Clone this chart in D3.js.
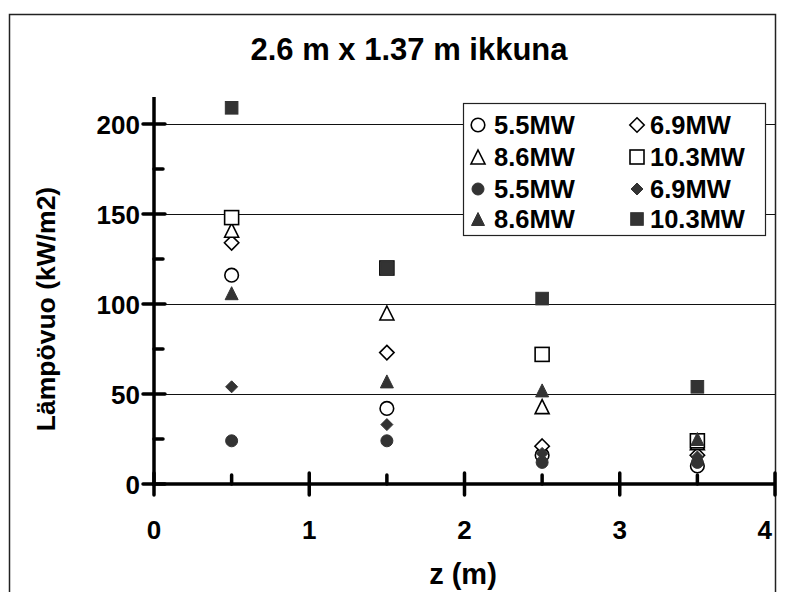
<!DOCTYPE html>
<html>
<head>
<meta charset="utf-8">
<script src="https://cdn.jsdelivr.net/npm/d3@7"></script>
<style>
  html, body { margin: 0; padding: 0; background: #fff; }
  svg { display: block; }
  text { font-family: "Liberation Sans", Arial, sans-serif; font-weight: bold; fill: #000; }
</style>
</head>
<body>
<svg id="chart" width="795" height="592"></svg>
<script>
// ---- data ----
const zValues = [0.5, 1.5, 2.5, 3.5];
const open55  = [116, 42, 16, 10];
const open69  = [134, 73, 21, 16];
const open86  = [141, 95, 43, 23];
const open103 = [148, 120, 72, 24];
const fill55  = [24, 24, 12, 12];
const fill69  = [54, 33, 17, 15];
const fill86  = [106, 57, 52, 25];
const fill103 = [209, 120, 103, 54];
const seriesLabels = ["5.5MW", "6.9MW", "8.6MW", "10.3MW", "5.5MW", "6.9MW", "8.6MW", "10.3MW"];
const xTicks = [0, 1, 2, 3, 4];
const xMinorTicks = [0.5, 1.5, 2.5, 3.5];
const yTicks = [0, 50, 100, 150, 200];
const yMinorTicks = [25, 75, 125, 175];
const titleText = "2.6 m x 1.37 m ikkuna";
const xTitle = "z (m)";
const yTitle = "Lämpövuo (kW/m2)";

// ---- series definitions ----
const series = [
  { label: seriesLabels[0], values: open55,  shape: "circle",   filled: false },
  { label: seriesLabels[1], values: open69,  shape: "diamond",  filled: false },
  { label: seriesLabels[2], values: open86,  shape: "triangle", filled: false },
  { label: seriesLabels[3], values: open103, shape: "square",   filled: false },
  { label: seriesLabels[4], values: fill55,  shape: "circle",   filled: true },
  { label: seriesLabels[5], values: fill69,  shape: "diamond",  filled: true },
  { label: seriesLabels[6], values: fill86,  shape: "triangle", filled: true },
  { label: seriesLabels[7], values: fill103, shape: "square",   filled: true }
];

const svg = d3.select("#chart");
const x = d3.scaleLinear().domain([0, 4]).range([154, 775]);
const y = d3.scaleLinear().domain([0, 215]).range([484, 97]);

// outer frame
svg.append("rect").attr("x", 9.5).attr("y", 14.5).attr("width", 766).attr("height", 600)
  .attr("fill", "none").attr("stroke", "#222").attr("stroke-width", 1.5);

// title
svg.append("text").attr("x", 409).attr("y", 60).attr("text-anchor", "middle")
  .attr("font-size", 31).text(titleText);

// gridlines
svg.append("g").selectAll("line").data(yTicks.filter(d => d > 0)).join("line")
  .attr("x1", x(0)).attr("x2", x(4))
  .attr("y1", d => Math.round(y(d)) + 0.5).attr("y2", d => Math.round(y(d)) + 0.5)
  .attr("stroke", "#111").attr("stroke-width", 1);

// axes
const axisG = svg.append("g");
axisG.append("line").attr("x1", x(0)).attr("x2", x(0)).attr("y1", y(0) + 2).attr("y2", y(215))
  .attr("stroke", "#000").attr("stroke-width", 3.5);
axisG.append("line").attr("x1", x(0) - 2).attr("x2", x(4)).attr("y1", y(0)).attr("y2", y(0))
  .attr("stroke", "#000").attr("stroke-width", 3.5);
axisG.selectAll(".ymaj").data(yTicks).join("line")
  .attr("x1", x(0) - 11).attr("x2", x(0) + 11)
  .attr("y1", d => y(d)).attr("y2", d => y(d))
  .attr("stroke", "#000").attr("stroke-width", 3.5).attr("stroke-linecap", "round");
axisG.selectAll(".ymin").data(yMinorTicks).join("line")
  .attr("x1", x(0)).attr("x2", x(0) + 9)
  .attr("y1", d => y(d)).attr("y2", d => y(d))
  .attr("stroke", "#000").attr("stroke-width", 3.5).attr("stroke-linecap", "round");
axisG.selectAll(".xmaj").data(xTicks).join("line")
  .attr("x1", d => x(d)).attr("x2", d => x(d))
  .attr("y1", y(0) - 11).attr("y2", y(0) + 11)
  .attr("stroke", "#000").attr("stroke-width", 3.5).attr("stroke-linecap", "round");
axisG.selectAll(".xmin").data(xMinorTicks).join("line")
  .attr("x1", d => x(d)).attr("x2", d => x(d))
  .attr("y1", y(0)).attr("y2", y(0) - 9)
  .attr("stroke", "#000").attr("stroke-width", 3.5).attr("stroke-linecap", "round");

// tick labels
svg.append("g").selectAll("text").data(yTicks).join("text")
  .attr("x", 140).attr("y", d => y(d) + 9.5).attr("text-anchor", "end")
  .attr("font-size", 26).text(d => d);
svg.append("g").selectAll("text").data(xTicks).join("text")
  .attr("x", (d, i) => i === xTicks.length - 1 ? x(d) - 3 : x(d))
  .attr("y", 539)
  .attr("text-anchor", (d, i) => i === xTicks.length - 1 ? "end" : "middle")
  .attr("font-size", 26).text(d => d);

// axis titles
svg.append("text").attr("x", 463).attr("y", 584).attr("text-anchor", "middle")
  .attr("font-size", 29).text(xTitle);
svg.append("text").attr("transform", "translate(55,309) rotate(-90)")
  .attr("text-anchor", "middle").attr("font-size", 26.5).text(yTitle);

// marker drawing
const darkFill = "#333";
function drawMarker(g, s, cx, cy) {
  const stroke = s.filled ? darkFill : "#000";
  const fill = s.filled ? darkFill : "#fff";
  const sw = s.filled ? 1 : 1.6;
  let el;
  if (s.shape === "circle") {
    const r = s.filled ? 6 : 6.8;
    el = g.append("circle").attr("cx", cx).attr("cy", cy).attr("r", r);
  } else if (s.shape === "square") {
    const h = s.filled ? 6.3 : 7;
    el = g.append("rect").attr("x", cx - h).attr("y", cy - h).attr("width", 2 * h).attr("height", 2 * h);
  } else if (s.shape === "triangle") {
    const h = s.filled ? 6.5 : 7;
    el = g.append("path").attr("d", `M${cx},${cy - h}L${cx + h},${cy + h}L${cx - h},${cy + h}Z`);
  } else {
    const h = s.filled ? 6 : 7.2;
    el = g.append("path").attr("d", `M${cx},${cy - h}L${cx + h},${cy}L${cx},${cy + h}L${cx - h},${cy}Z`);
  }
  el.attr("fill", fill).attr("stroke", stroke).attr("stroke-width", sw).attr("stroke-linejoin", "miter");
}

const pts = svg.append("g");
series.forEach(s => {
  s.values.forEach((v, i) => drawMarker(pts, s, x(zValues[i]), y(v)));
});

// legend
const lg = svg.append("g");
lg.append("rect").attr("x", 463.5).attr("y", 103.5).attr("width", 302).attr("height", 132)
  .attr("fill", "#fff").attr("stroke", "#222").attr("stroke-width", 1.2);
const rowY = [125, 157, 189, 219];
const colMarkX = [478, 637];
const colTextX = [494, 650];
series.forEach((s, i) => {
  const row = Math.floor(i / 2), col = i % 2;
  drawMarker(lg, s, colMarkX[col], rowY[row]);
  lg.append("text").attr("x", colTextX[col]).attr("y", rowY[row] + 9)
    .attr("font-size", 25.5).text(s.label);
});
</script>
</body>
</html>
